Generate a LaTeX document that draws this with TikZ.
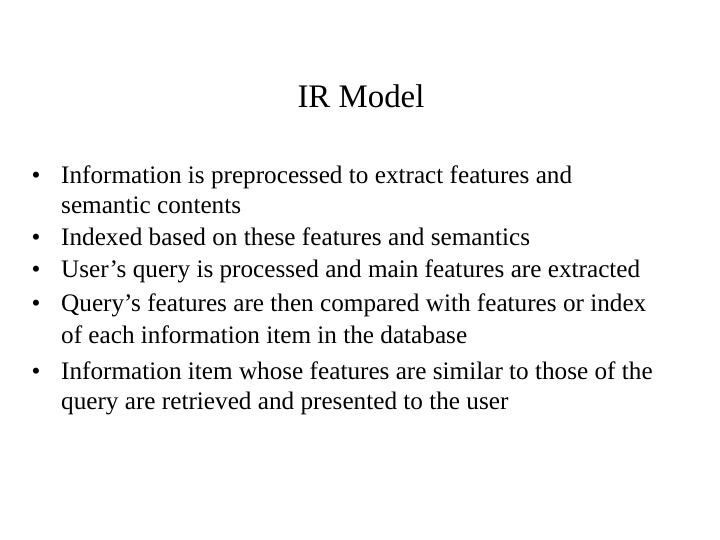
\documentclass[tikz,border=0pt]{standalone}
\usepackage{fontspec}
\setmainfont{Liberation Serif}
\begin{document}
\begin{tikzpicture}[x=1bp,y=-1bp,
  txt/.style={anchor=base west,inner sep=0pt,font=\fontsize{25.3}{28}\selectfont},
  bul/.style={anchor=base,inner sep=0pt,font=\fontsize{25.3}{28}\selectfont}]
\useasboundingbox (0,0) rectangle (720,540);
\node[anchor=base,inner sep=0pt,font=\fontsize{33}{36}\selectfont] (title) at (361,108) {IR Model};
\foreach \y/\b/\t [count=\i] in {
 184/1/Information is preprocessed to extract features and,
 214/0/semantic contents,
 246/1/Indexed based on these features and semantics,
 278/1/User’s query is processed and main features are extracted,
 311/1/Query’s features are then compared with features or index,
 343/0/of each information item in the database,
 379/1/Information item whose features are similar to those of the,
 409/0/query are retrieved and presented to the user}{
  \node[txt] (l\i) at (61,\y) {\t};
  \ifnum\b=1 \node[bul] (b\i) at (36,\y) {•};\fi
}
\end{tikzpicture}
\end{document}
